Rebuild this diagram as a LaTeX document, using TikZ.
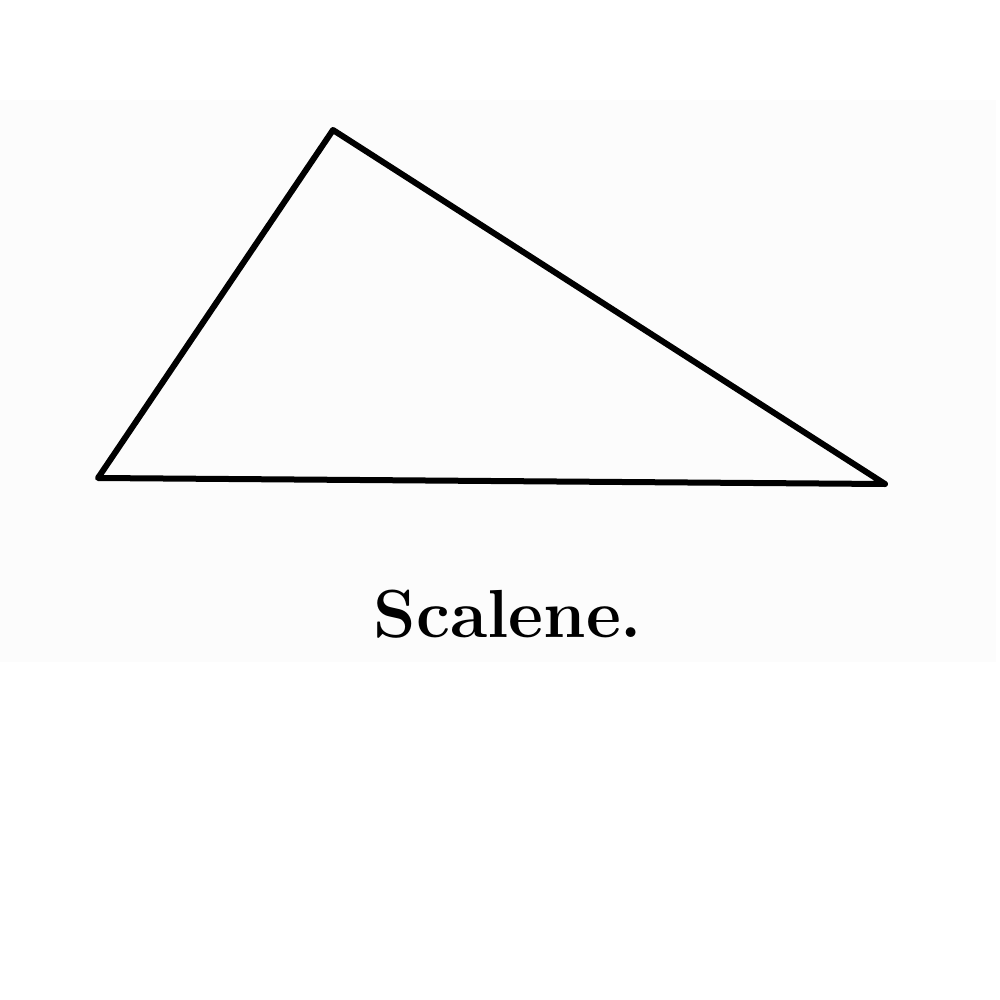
\documentclass[tikz,border=0pt]{standalone}
\begin{document}
\begin{tikzpicture}[x=0.5pt,y=-0.5pt,
  edge/.style={line width=3pt,line join=round,line cap=round,black},
  lbl/.style={font=\fontsize{34}{40}\selectfont\bfseries,inner sep=0pt,anchor=base}]
\useasboundingbox (0,0) rectangle (1000,1000);
\fill[white] (0,0) rectangle (1000,1000);
\fill[black!1] (0,100) rectangle (996,662);
\coordinate (A) at (333,130);
\coordinate (B) at (98,478);
\coordinate (C) at (885,484);
\draw[edge] (A) -- (B) -- (C) -- cycle;
\node[lbl] (t) at (508,637) {Scalene.};
\end{tikzpicture}
\end{document}
